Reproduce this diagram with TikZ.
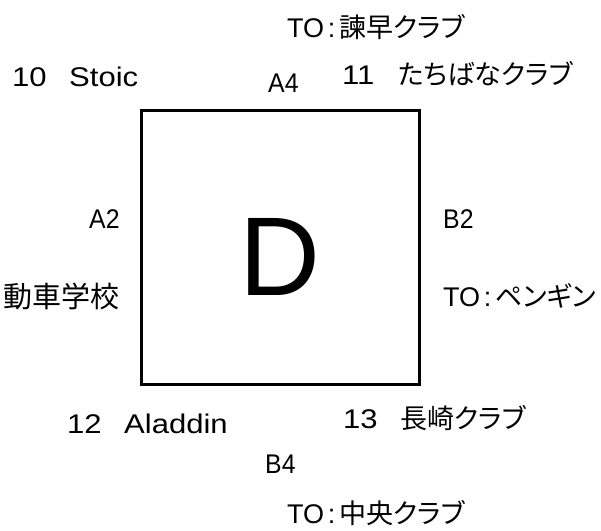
\documentclass[tikz,border=0pt]{standalone}
\usepackage{fontspec}
\setmainfont{Liberation Sans}
\newfontfamily\cjk[RawFeature=+palt]{Noto Sans CJK JP}
\newfontfamily\wide[FakeStretch=1.15]{Liberation Sans}
\newfontfamily\narrow[FakeStretch=0.92]{Liberation Sans}
\tikzset{
  lbl/.style={anchor=base west, inner sep=0pt, font=\fontsize{27}{30}\selectfont},
  port/.style={lbl, font=\fontsize{27}{30}\selectfont\narrow},
  boxst/.style={draw=black, line width=3pt, fill=white},
}
\begin{document}
\begin{tikzpicture}[x=1pt, y=-1pt]
\useasboundingbox (0,0) rectangle (601,530);
\draw[boxst] (141,110.5) rectangle (419,384);
\node[anchor=base, inner sep=0pt, font=\fontsize{112}{120}\selectfont] (d) at (280,295) {D};
\node[lbl] (toisahaya) at (287,37) {TO\makebox[15pt]{:}{\cjk 諫早クラブ}};
\node[lbl] (stoic) at (12,86) {\wide\makebox[57pt][l]{10}Stoic};
\node[port] (a4) at (268,92) {A4};
\node[lbl] (tachibana) at (342,84) {\makebox[56pt][l]{\wide 11}{\cjk たちばなクラブ}};
\node[port] (a2) at (89,228) {A2};
\node[port] (b2) at (443,228) {B2};
\node[lbl, font=\fontsize{29}{32}\selectfont] (jidosha) at (3,307) {\cjk 動車学校};
\node[lbl] (topenguin) at (443,306) {TO\makebox[15pt]{:}{\cjk ペンギン}};
\node[lbl] (aladdin) at (67,433) {\wide\makebox[57pt][l]{12}Aladdin};
\node[lbl] (nagasaki) at (343,428) {\makebox[57pt][l]{\wide 13}{\cjk 長崎クラブ}};
\node[port] (b4) at (265,473) {B4};
\node[lbl] (tochuo) at (287,523) {TO\makebox[15pt]{:}{\cjk 中央クラブ}};
\end{tikzpicture}
\end{document}
